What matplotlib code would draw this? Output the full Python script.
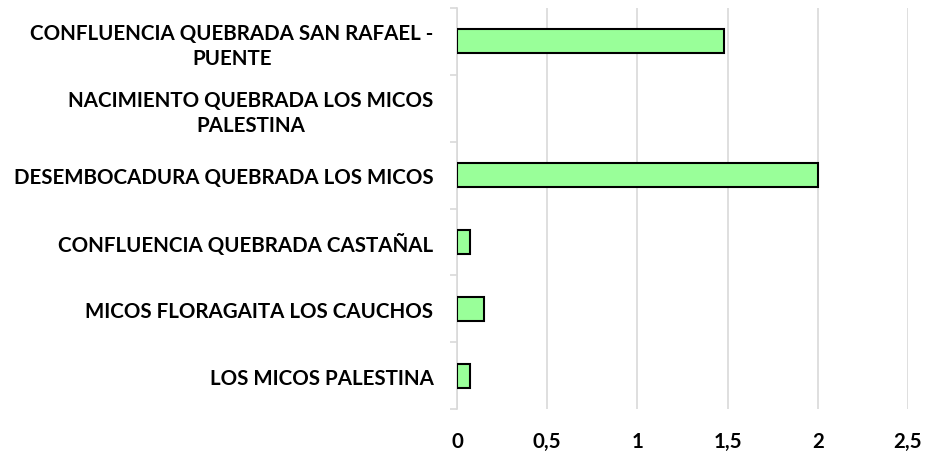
import matplotlib.pyplot as plt
import numpy as np

# categories listed bottom to top
categories = [
    "LOS MICOS PALESTINA",
    "MICOS FLORAGAITA LOS CAUCHOS",
    "CONFLUENCIA QUEBRADA CASTAÑAL",
    "DESEMBOCADURA QUEBRADA LOS MICOS",
    "NACIMIENTO QUEBRADA LOS MICOS\nPALESTINA",
    "CONFLUENCIA QUEBRADA SAN RAFAEL -\nPUENTE",
]
values = [0.07, 0.15, 0.07, 2.0, 0.0, 1.48]
x_ticks = [0, 0.5, 1, 1.5, 2, 2.5]
x_tick_labels = ["0", "0,5", "1", "1,5", "2", "2,5"]

plt.rcParams['font.family'] = ['Lato', 'DejaVu Sans']

fig = plt.figure(figsize=(9.31, 4.56), dpi=100)
ax = fig.add_axes([457 / 931, 46 / 456, 451 / 931, 401 / 456])

y = np.arange(len(categories))
widths = [1.5 if v > 0 else 0 for v in values]
ax.barh(y, values, height=0.36, color='#99FF99', edgecolor='black', linewidth=widths, zorder=3)

ax.set_xlim(0, 2.5)
ax.set_ylim(-0.5, len(categories) - 0.5)
ax.set_xticks(x_ticks)
ax.set_xticklabels(x_tick_labels, fontsize=14.8, fontweight='bold')
ax.set_yticks(y)
ax.set_yticklabels(categories, fontsize=14.8, fontweight='bold', multialignment='center', linespacing=1.3)
ax.set_yticks(np.arange(len(categories) + 1) - 0.5, minor=True)

ax.grid(axis='x', color='#D9D9D9', linewidth=1.2, zorder=0)
for side in ['top', 'right', 'bottom']:
    ax.spines[side].set_visible(False)
ax.spines['left'].set_color('#D9D9D9')
ax.spines['left'].set_linewidth(1.2)

ax.tick_params(axis='x', length=0, pad=16)
ax.tick_params(axis='y', which='major', length=0, pad=17)
ax.tick_params(axis='y', which='minor', length=5, color='#D9D9D9', width=1.2)

plt.savefig("out.png", dpi=100)
